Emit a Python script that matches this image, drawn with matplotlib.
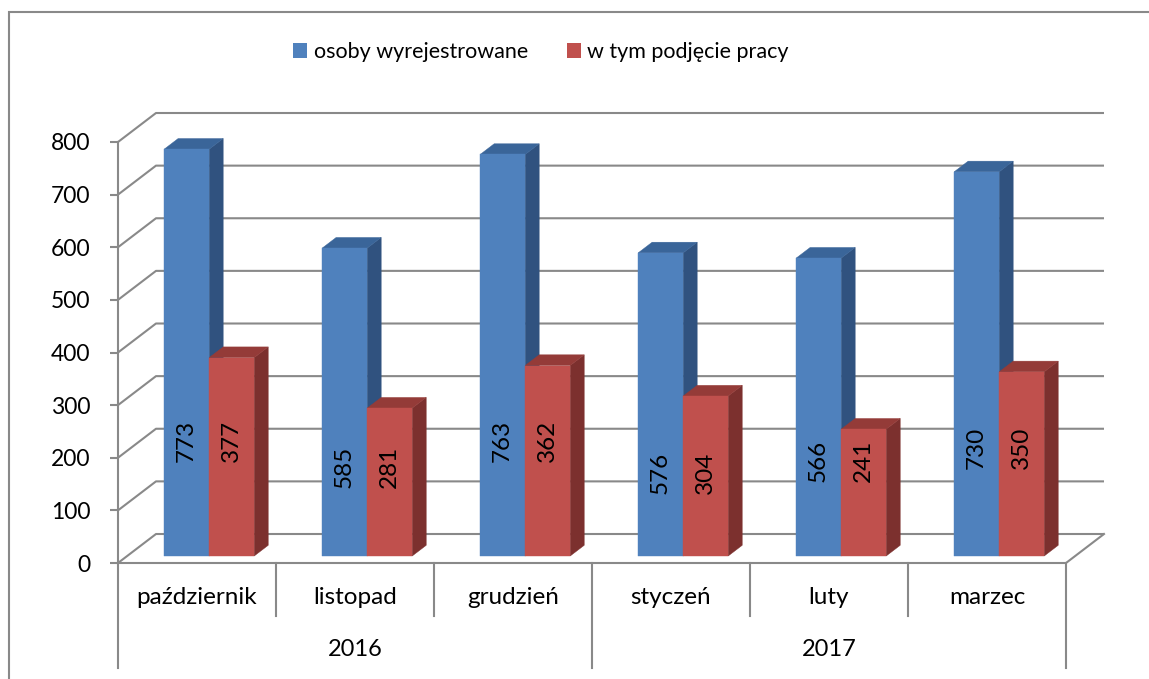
import matplotlib

matplotlib.use("Agg")
import matplotlib.pyplot as plt
from matplotlib.patches import Polygon, Patch, Rectangle

plt.rcParams["font.family"] = ["Lato", "DejaVu Sans"]

# data
months = ["październik", "listopad", "grudzień", "styczeń", "luty", "marzec"]
years = ["2016", "2017"]
deregistered = [773, 585, 763, 576, 566, 730]
employed = [377, 281, 362, 304, 241, 350]
series_names = ["osoby wyrejestrowane", "w tym podjęcie pracy"]

# label heights along the bar (value units)
label_pos = [232, 182, 232, 171, 194, 218]

# 3d look
DX = 0.2405   # depth offset in category units
DY = 55.1     # depth offset in value units
D_FRONT = 0.241
D_BACK = 0.61
BAR_W = 0.285
BAR_OFF = 0.234
GRID = "#898989"

faces = {
    "blue": ("#4f81bd", "#3a6599", "#30527f"),
    "red": ("#c0504d", "#943b38", "#7c302e"),
}


def proj(x, v, d):
    return (x + d * DX, v + d * DY)


def draw_bar(ax, x0, value, colors):
    front, top, side = colors
    x1 = x0 + BAR_W
    fr = [proj(x0, 0, D_FRONT), proj(x1, 0, D_FRONT), proj(x1, value, D_FRONT), proj(x0, value, D_FRONT)]
    tp = [proj(x0, value, D_FRONT), proj(x1, value, D_FRONT), proj(x1, value, D_BACK), proj(x0, value, D_BACK)]
    sd = [proj(x1, 0, D_FRONT), proj(x1, value, D_FRONT), proj(x1, value, D_BACK), proj(x1, 0, D_BACK)]
    for pts, c in ((sd, side), (tp, top), (fr, front)):
        ax.add_patch(Polygon(pts, closed=True, facecolor=c, edgecolor=c, lw=0.3, clip_on=False, zorder=3))


fig = plt.figure(figsize=(11.49, 6.79), dpi=100)
W, H = 1149, 679
ax = fig.add_axes([118 / W, (H - 563) / H, (1066 - 118) / W, (563 - 142) / H])
n = len(months)
ax.set_xlim(0, n)
ax.set_ylim(0, 800)
ax.patch.set_visible(False)
for side in ("top", "right", "bottom"):
    ax.spines[side].set_visible(False)
ax.spines["left"].set_color(GRID)
ax.spines["left"].set_linewidth(1.5)
ax.set_xticks([])
ax.set_yticks(range(0, 801, 100))
ax.tick_params(axis="y", length=6, width=1.5, color=GRID, labelsize=16.5, pad=14)

# back wall gridlines
for v in range(0, 801, 100):
    xs = [0, DX, n + DX]
    ys = [v, v + DY, v + DY]
    ax.plot(xs, ys, color=GRID, lw=1.5, clip_on=False, zorder=1, solid_capstyle="butt")
# floor front and right edge
ax.plot([0, n, n + DX], [0, 0, DY], color=GRID, lw=1.5, clip_on=False, zorder=1)

# bars
for i in range(n):
    xb = i + BAR_OFF
    draw_bar(ax, xb, deregistered[i], faces["blue"])
    draw_bar(ax, xb + BAR_W, employed[i], faces["red"])
    for k, val in enumerate((deregistered[i], employed[i])):
        cx = xb + BAR_W * (k + 0.5) + D_FRONT * DX
        ax.text(cx, label_pos[i], str(val), rotation=90, ha="center", va="center",
                fontsize=17.5, color="black", zorder=5)

# category axis
for i in range(n + 1):
    low = -200 if i % 3 == 0 else -100
    ax.plot([i, i], [0, low], color=GRID, lw=1.5, clip_on=False, zorder=1)
for i, m in enumerate(months):
    ax.text(i + 0.5, -66, m, ha="center", va="center", fontsize=17.5)
for j, y in enumerate(years):
    ax.text(j * 3 + 1.5, -165, y, ha="center", va="center", fontsize=17)

# legend
handles = [Patch(facecolor=faces["blue"][0], edgecolor="none"),
           Patch(facecolor=faces["red"][0], edgecolor="none")]
fig.legend(handles, series_names, loc="center", bbox_to_anchor=(541 / W, 1 - 52 / H),
           ncol=2, frameon=False, fontsize=15.5, handlelength=0.65, handleheight=0.65,
           handletextpad=0.3, columnspacing=1.8)

# outer frame
fig.patches.append(Rectangle((9 / W, -0.1), 1.2, 1.1 - 12 / H, transform=fig.transFigure,
                             fill=False, edgecolor=GRID, lw=1.5))

fig.savefig("out.png", dpi=100)
